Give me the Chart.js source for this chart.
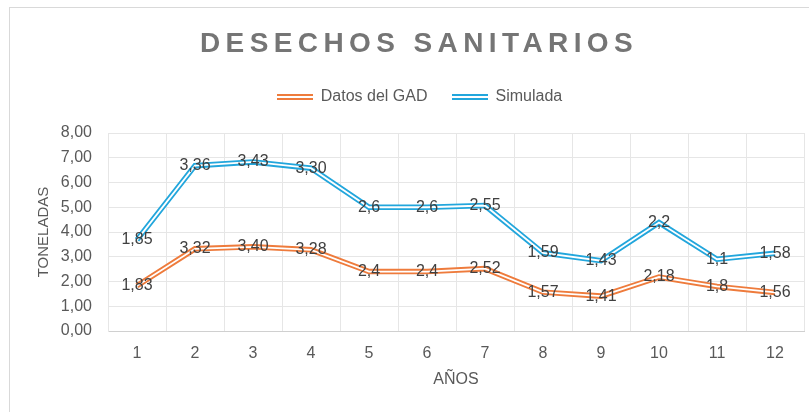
<!DOCTYPE html>
<html lang="es">
<head>
<meta charset="utf-8">
<title>Desechos sanitarios</title>
<script src="https://cdn.jsdelivr.net/npm/chart.js@4.4.1/dist/chart.umd.min.js"></script>
<style>
    html, body { margin: 0; padding: 0; background: #ffffff; overflow: hidden; }
    #wrap { position: relative; width: 809px; height: 412px; }
    #frame {
        position: absolute; left: 9px; top: 7px; width: 830px; height: 430px;
        border: 1px solid #d9d9d9; pointer-events: none;
    }
</style>
</head>
<body>
<div id="wrap">
    <canvas id="chart" width="809" height="412"></canvas>
    <div id="frame"></div>
</div>
<script>
// Datos
const years = ['1', '2', '3', '4', '5', '6', '7', '8', '9', '10', '11', '12'];
const gadValues = [1.83, 3.32, 3.40, 3.28, 2.4, 2.4, 2.52, 1.57, 1.41, 2.18, 1.8, 1.56];
const simValues = [1.85, 3.36, 3.43, 3.30, 2.6, 2.6, 2.55, 1.59, 1.43, 2.2, 1.1, 1.58];
const gadLabels = ['1,83', '3,32', '3,40', '3,28', '2,4', '2,4', '2,52', '1,57', '1,41', '2,18', '1,8', '1,56'];
const simLabels = ['1,85', '3,36', '3,43', '3,30', '2,6', '2,6', '2,55', '1,59', '1,43', '2,2', '1,1', '1,58'];
const yTicks = [0, 1, 2, 3, 4, 5, 6, 7, 8];

const ORANGE = '#EE7B3C';
const BLUE = '#22A6DC';
const FONT = '"Liberation Sans", Arial, sans-serif';

// Símbolo de línea doble para la leyenda
function doubleLineIcon(color) {
    const c = document.createElement('canvas');
    c.width = 36;
    c.height = 6;
    const g = c.getContext('2d');
    g.fillStyle = color;
    g.fillRect(0, 0, 36, 6);
    g.fillStyle = '#ffffff';
    g.fillRect(0, 2, 36, 2);
    return c;
}

// Título con espaciado entre letras
const titlePlugin = {
    id: 'spacedTitle',
    afterDraw(chart) {
        const ctx = chart.ctx;
        ctx.save();
        ctx.font = 'bold 28px ' + FONT;
        ctx.fillStyle = '#757575';
        ctx.textAlign = 'center';
        ctx.textBaseline = 'alphabetic';
        ctx.letterSpacing = '5.4px';
        ctx.fillText('DESECHOS SANITARIOS', 419, 52);
        ctx.restore();
    }
};

// Etiquetas de datos centradas en cada punto
const labelPlugin = {
    id: 'pointLabels',
    afterDatasetsDraw(chart) {
        const ctx = chart.ctx;
        const sets = [[0, gadLabels], [1, simLabels]];
        ctx.save();
        ctx.font = '16px ' + FONT;
        ctx.fillStyle = '#404040';
        ctx.textAlign = 'center';
        ctx.textBaseline = 'middle';
        sets.forEach(([idx, labels]) => {
            const meta = chart.getDatasetMeta(idx);
            meta.data.forEach((pt, i) => {
                ctx.fillText(labels[i], pt.x, pt.y);
            });
        });
        ctx.restore();
    }
};

// Coloca la leyenda como en el original
const legendShift = {
    id: 'legendShift',
    afterLayout(chart) {
        chart.legend.left += 13;
        chart.legend.right += 13;
        chart.legend.top -= 18;
        chart.legend.bottom -= 18;
    }
};

const ctx = document.getElementById('chart').getContext('2d');

new Chart(ctx, {
    type: 'line',
    data: {
        labels: years,
        datasets: [
            {
                label: 'Datos del GAD',
                data: gadValues,
                borderColor: ORANGE,
                backgroundColor: ORANGE,
                borderWidth: 5.5,
                pointRadius: 0,
                pointStyle: doubleLineIcon(ORANGE),
                tension: 0,
                stack: 'main',
                order: 1
            },
            {
                label: 'Simulada',
                data: simValues,
                borderColor: BLUE,
                backgroundColor: BLUE,
                borderWidth: 5.5,
                pointRadius: 0,
                pointStyle: doubleLineIcon(BLUE),
                tension: 0,
                stack: 'main',
                order: 1
            },
            {
                label: 'gad-inner',
                data: gadValues,
                borderColor: '#ffffff',
                borderWidth: 1.8,
                pointRadius: 0,
                tension: 0,
                stack: 'inner',
                order: 0
            },
            {
                label: 'sim-inner',
                data: simValues,
                borderColor: '#ffffff',
                borderWidth: 1.8,
                pointRadius: 0,
                tension: 0,
                stack: 'inner',
                order: 0
            }
        ]
    },
    options: {
        responsive: false,
        animation: false,
        layout: { padding: { left: 9, right: 5, top: 83, bottom: 0 } },
        plugins: {
            legend: {
                position: 'top',
                labels: {
                    usePointStyle: true,
                    pointStyleWidth: 36,
                    padding: 24,
                    color: '#595959',
                    font: { family: FONT, size: 16 },
                    filter: item => item.datasetIndex < 2
                }
            },
            title: { display: false },
            tooltip: { enabled: false }
        },
        scales: {
            x: {
                offset: true,
                grid: { offset: true, color: '#e6e6e6', drawTicks: false },
                border: { color: '#d0d0d0' },
                ticks: {
                    color: '#595959',
                    padding: 13,
                    font: { family: FONT, size: 16 }
                },
                title: {
                    display: true,
                    text: 'AÑOS',
                    color: '#595959',
                    font: { family: FONT, size: 16 },
                    padding: { top: 0, bottom: 23 }
                },
                afterFit(scale) { scale.height = 81; }
            },
            y: {
                stacked: true,
                min: 0,
                max: 8,
                afterBuildTicks(scale) {
                    scale.ticks = yTicks.map(v => ({ value: v }));
                },
                grid: { color: '#e6e6e6', drawTicks: false },
                border: { color: '#e6e6e6' },
                ticks: {
                    color: '#595959',
                    padding: 16,
                    font: { family: FONT, size: 16 },
                    callback: v => v.toFixed(2).replace('.', ',')
                },
                title: {
                    display: true,
                    text: 'TONELADAS',
                    color: '#595959',
                    font: { family: FONT, size: 15 },
                    padding: { top: 26, bottom: 0 }
                },
                afterFit(scale) { scale.width = 99; }
            }
        }
    },
    plugins: [titlePlugin, labelPlugin, legendShift]
});
</script>
</body>
</html>
